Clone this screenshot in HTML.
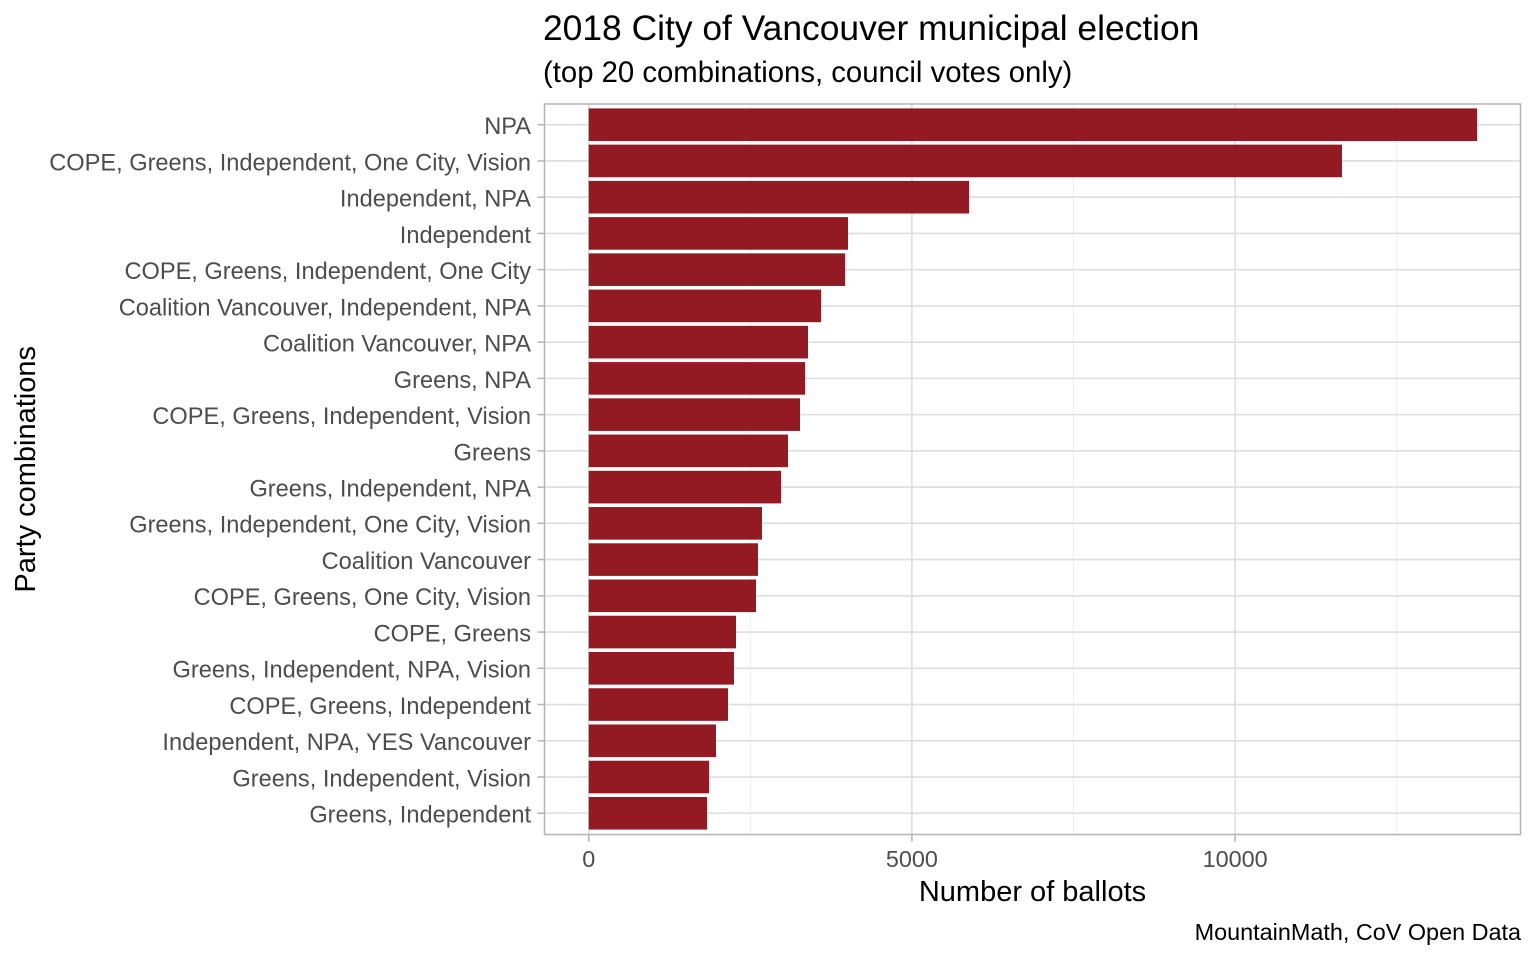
<!DOCTYPE html>
<html>
<head>
<meta charset="utf-8">
<style>
html,body{margin:0;padding:0;background:#fff;}
svg{display:block;}
text{font-family:"Liberation Sans",Arial,sans-serif;}
</style>
</head>
<body>
<svg width="1536" height="960" viewBox="0 0 1536 960" xmlns="http://www.w3.org/2000/svg">
<rect x="0" y="0" width="1536" height="960" fill="#fff"/>
<!-- minor vertical grid -->
<g stroke="#EBEBEB" stroke-width="0.9">
<line x1="750.3" y1="104" x2="750.3" y2="834.5"/>
<line x1="1073.5" y1="104" x2="1073.5" y2="834.5"/>
<line x1="1396.7" y1="104" x2="1396.7" y2="834.5"/>
</g>
<!-- major grid -->
<g stroke="#DEDEDE" stroke-width="1.6">
<line x1="588.7" y1="104" x2="588.7" y2="834.5"/>
<line x1="911.9" y1="104" x2="911.9" y2="834.5"/>
<line x1="1235.1" y1="104" x2="1235.1" y2="834.5"/>
<line x1="544.5" y1="124.7" x2="1520.5" y2="124.7"/>
<line x1="544.5" y1="160.94" x2="1520.5" y2="160.94"/>
<line x1="544.5" y1="197.18" x2="1520.5" y2="197.18"/>
<line x1="544.5" y1="233.42" x2="1520.5" y2="233.42"/>
<line x1="544.5" y1="269.66" x2="1520.5" y2="269.66"/>
<line x1="544.5" y1="305.9" x2="1520.5" y2="305.9"/>
<line x1="544.5" y1="342.14" x2="1520.5" y2="342.14"/>
<line x1="544.5" y1="378.38" x2="1520.5" y2="378.38"/>
<line x1="544.5" y1="414.62" x2="1520.5" y2="414.62"/>
<line x1="544.5" y1="450.86" x2="1520.5" y2="450.86"/>
<line x1="544.5" y1="487.1" x2="1520.5" y2="487.1"/>
<line x1="544.5" y1="523.34" x2="1520.5" y2="523.34"/>
<line x1="544.5" y1="559.58" x2="1520.5" y2="559.58"/>
<line x1="544.5" y1="595.82" x2="1520.5" y2="595.82"/>
<line x1="544.5" y1="632.06" x2="1520.5" y2="632.06"/>
<line x1="544.5" y1="668.3" x2="1520.5" y2="668.3"/>
<line x1="544.5" y1="704.54" x2="1520.5" y2="704.54"/>
<line x1="544.5" y1="740.78" x2="1520.5" y2="740.78"/>
<line x1="544.5" y1="777.02" x2="1520.5" y2="777.02"/>
<line x1="544.5" y1="813.26" x2="1520.5" y2="813.26"/>
</g>
<!-- bars -->
<g fill="#931A22">
<rect x="588.7" y="108.4" width="888.3" height="32.6"/>
<rect x="588.7" y="144.64" width="753.3" height="32.6"/>
<rect x="588.7" y="180.88" width="380.3" height="32.6"/>
<rect x="588.7" y="217.12" width="259.3" height="32.6"/>
<rect x="588.7" y="253.36" width="256.3" height="32.6"/>
<rect x="588.7" y="289.6" width="232.3" height="32.6"/>
<rect x="588.7" y="325.84" width="219.3" height="32.6"/>
<rect x="588.7" y="362.08" width="216.3" height="32.6"/>
<rect x="588.7" y="398.32" width="211.3" height="32.6"/>
<rect x="588.7" y="434.56" width="199.3" height="32.6"/>
<rect x="588.7" y="470.8" width="192.3" height="32.6"/>
<rect x="588.7" y="507.04" width="173.3" height="32.6"/>
<rect x="588.7" y="543.28" width="169.3" height="32.6"/>
<rect x="588.7" y="579.52" width="167.3" height="32.6"/>
<rect x="588.7" y="615.76" width="147.3" height="32.6"/>
<rect x="588.7" y="652" width="145.3" height="32.6"/>
<rect x="588.7" y="688.24" width="139.3" height="32.6"/>
<rect x="588.7" y="724.48" width="127.3" height="32.6"/>
<rect x="588.7" y="760.72" width="120.3" height="32.6"/>
<rect x="588.7" y="796.96" width="118.3" height="32.6"/>
</g>
<!-- panel border -->
<rect x="544.5" y="104" width="976" height="730.5" fill="none" stroke="#B3B3B3" stroke-width="1.5"/>
<!-- ticks -->
<g stroke="#B3B3B3" stroke-width="1.5">
<line x1="537.5" y1="124.7" x2="544.5" y2="124.7"/>
<line x1="537.5" y1="160.94" x2="544.5" y2="160.94"/>
<line x1="537.5" y1="197.18" x2="544.5" y2="197.18"/>
<line x1="537.5" y1="233.42" x2="544.5" y2="233.42"/>
<line x1="537.5" y1="269.66" x2="544.5" y2="269.66"/>
<line x1="537.5" y1="305.9" x2="544.5" y2="305.9"/>
<line x1="537.5" y1="342.14" x2="544.5" y2="342.14"/>
<line x1="537.5" y1="378.38" x2="544.5" y2="378.38"/>
<line x1="537.5" y1="414.62" x2="544.5" y2="414.62"/>
<line x1="537.5" y1="450.86" x2="544.5" y2="450.86"/>
<line x1="537.5" y1="487.1" x2="544.5" y2="487.1"/>
<line x1="537.5" y1="523.34" x2="544.5" y2="523.34"/>
<line x1="537.5" y1="559.58" x2="544.5" y2="559.58"/>
<line x1="537.5" y1="595.82" x2="544.5" y2="595.82"/>
<line x1="537.5" y1="632.06" x2="544.5" y2="632.06"/>
<line x1="537.5" y1="668.3" x2="544.5" y2="668.3"/>
<line x1="537.5" y1="704.54" x2="544.5" y2="704.54"/>
<line x1="537.5" y1="740.78" x2="544.5" y2="740.78"/>
<line x1="537.5" y1="777.02" x2="544.5" y2="777.02"/>
<line x1="537.5" y1="813.26" x2="544.5" y2="813.26"/>
<line x1="588.7" y1="834.5" x2="588.7" y2="841.7"/>
<line x1="911.9" y1="834.5" x2="911.9" y2="841.7"/>
<line x1="1235.1" y1="834.5" x2="1235.1" y2="841.7"/>
</g>
<!-- y tick labels -->
<g font-size="23.6" fill="#4D4D4D" text-anchor="end">
<text x="531" y="134.1">NPA</text>
<text x="531" y="170.34">COPE, Greens, Independent, One City, Vision</text>
<text x="531" y="206.58">Independent, NPA</text>
<text x="531" y="242.82">Independent</text>
<text x="531" y="279.06">COPE, Greens, Independent, One City</text>
<text x="531" y="315.3">Coalition Vancouver, Independent, NPA</text>
<text x="531" y="351.54">Coalition Vancouver, NPA</text>
<text x="531" y="387.78">Greens, NPA</text>
<text x="531" y="424.02">COPE, Greens, Independent, Vision</text>
<text x="531" y="460.26">Greens</text>
<text x="531" y="496.5">Greens, Independent, NPA</text>
<text x="531" y="532.74">Greens, Independent, One City, Vision</text>
<text x="531" y="568.98">Coalition Vancouver</text>
<text x="531" y="605.22">COPE, Greens, One City, Vision</text>
<text x="531" y="641.46">COPE, Greens</text>
<text x="531" y="677.7">Greens, Independent, NPA, Vision</text>
<text x="531" y="713.94">COPE, Greens, Independent</text>
<text x="531" y="750.18">Independent, NPA, YES Vancouver</text>
<text x="531" y="786.42">Greens, Independent, Vision</text>
<text x="531" y="822.66">Greens, Independent</text>
</g>
<!-- x tick labels -->
<g font-size="23.4" fill="#4D4D4D" text-anchor="middle">
<text x="588.7" y="867">0</text>
<text x="911.9" y="867">5000</text>
<text x="1235.1" y="867">10000</text>
</g>
<!-- axis titles -->
<text x="1032.5" y="901" font-size="29" fill="#000" text-anchor="middle">Number of ballots</text>
<text transform="translate(35,469.3) rotate(-90)" font-size="29" fill="#000" text-anchor="middle">Party combinations</text>
<!-- title / subtitle / caption -->
<text x="543" y="40" font-size="35.4" fill="#000">2018 City of Vancouver municipal election</text>
<text x="543" y="82" font-size="29.3" fill="#000">(top 20 combinations, council votes only)</text>
<text x="1521" y="940" font-size="23.4" fill="#000" text-anchor="end">MountainMath, CoV Open Data</text>
</svg>
</body>
</html>
